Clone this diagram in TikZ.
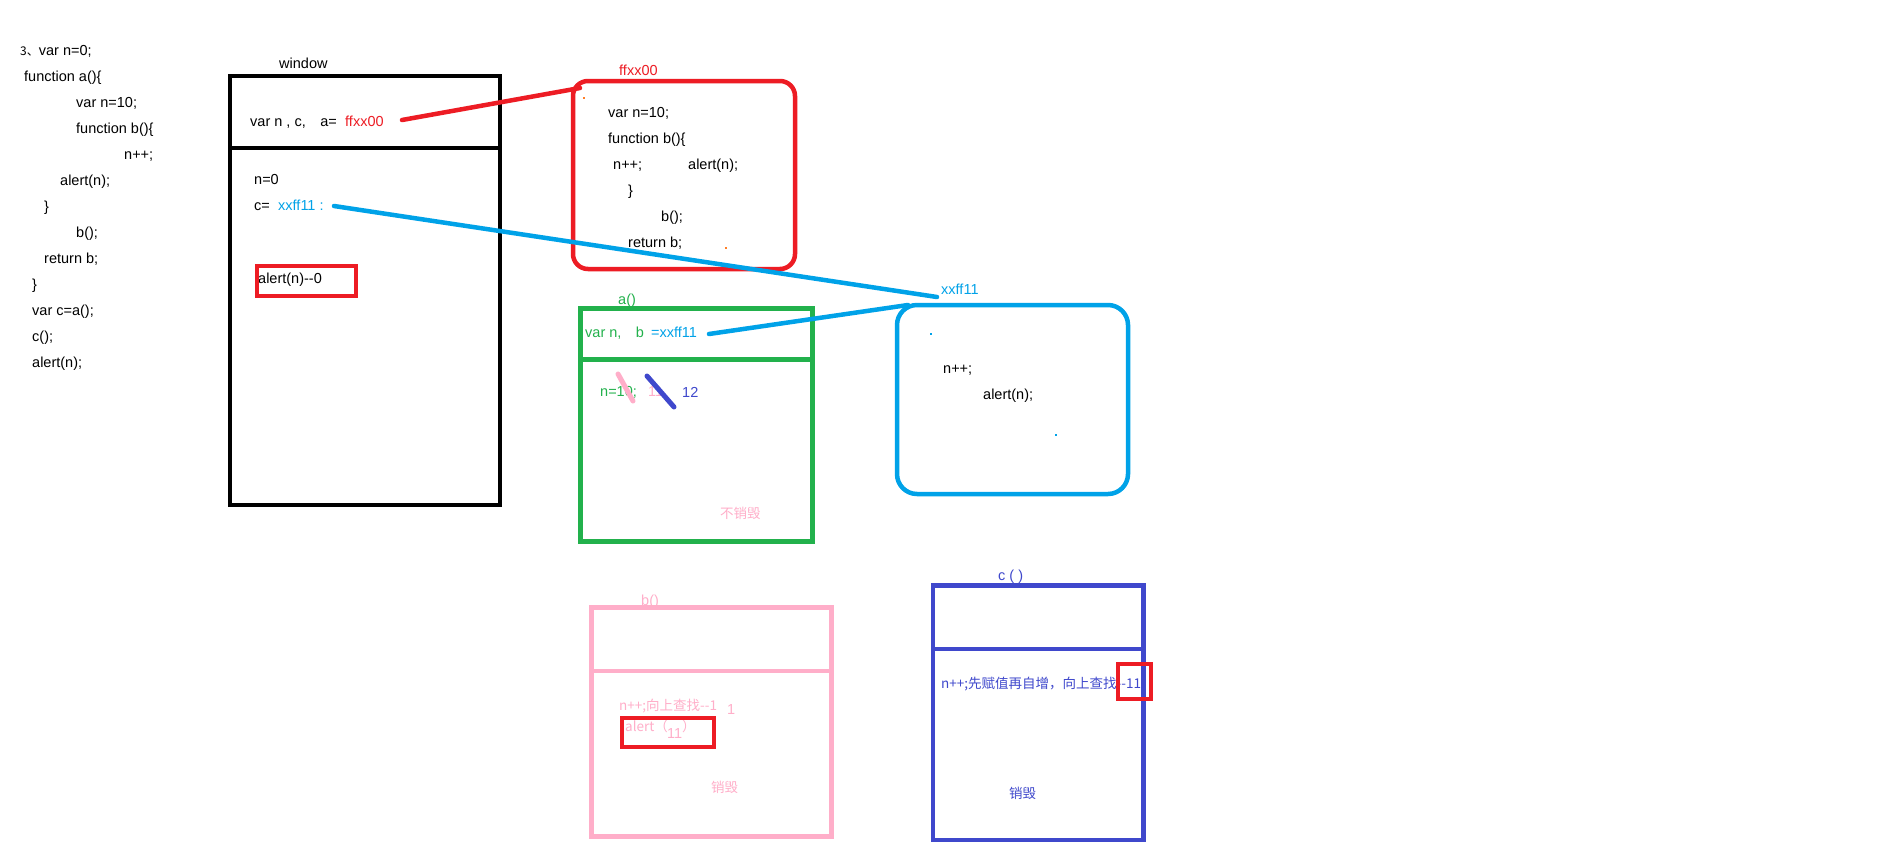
\documentclass[tikz,border=0pt]{standalone}
\usepackage{fontspec}
\setmainfont{Liberation Sans}
\newfontfamily\cjk{Noto Sans CJK SC}
\definecolor{pred}{HTML}{ED1C24}
\definecolor{pgreen}{HTML}{22B14C}
\definecolor{pblue}{HTML}{00A2E8}
\definecolor{pdblue}{HTML}{3F48CC}
\definecolor{ppink}{HTML}{FFAEC9}
\definecolor{porange}{HTML}{FF7F27}
\begin{document}
\begin{tikzpicture}[x=1pt,y=-1pt,
  txt/.style={anchor=base west,inner sep=0pt,font=\fontsize{14.5}{17}\selectfont},
  ctxt/.style={anchor=base west,inner sep=0pt,font=\cjk\fontsize{13.5}{16}\selectfont},
  frame/.style={line width=4.5pt},
  conn/.style={line width=4.5pt,line cap=round},
  strike/.style={line width=5pt,line cap=round},
  dot/.style={fill=#1,inner sep=0pt,minimum size=2pt}]
\fill[white] (0,0) rectangle (1878,855);
\useasboundingbox (0,0) rectangle (1878,855);
% ---------- source code ----------
\node[txt] (c1) at (20,55) {{\cjk\fontsize{12}{14}\selectfont 3、}var n=0;};
\node[txt] (c2) at (24,81) {function a()\{};
\node[txt] (c3) at (76,107) {var n=10;};
\node[txt] (c4) at (76,133) {function b()\{};
\node[txt] (c5) at (124,159) {n++;};
\node[txt] (c6) at (60,185) {alert(n);};
\node[txt] (c7) at (44,211) {\}};
\node[txt] (c8) at (76,237) {b();};
\node[txt] (c9) at (44,263) {return b;};
\node[txt] (c10) at (32,289) {\}};
\node[txt] (c11) at (32,315) {var c=a();};
\node[txt] (c12) at (32,341) {c();};
\node[txt] (c13) at (32,367) {alert(n);};
% ---------- window ----------
\node[txt] (wl) at (279,68) {window};
\draw[frame] (230,76) rectangle (500,505);
\draw[frame] (230,148) -- (500,148);
\node[txt] (wv) at (250,126) {var n , c,\quad a=};
\node[txt,text=pred] (wa) at (345,126) {ffxx00};
\node[txt] (wn) at (254,184) {n=0};
\node[txt] (wc) at (254,210) {c=};
\node[txt,text=pblue] (wcv) at (278,210) {xxff11 :};
\node[txt] (wal) at (258,283) {alert(n)-{}-0};
\draw[frame,pred] (257,266) rectangle (356,296);
% ---------- red function object ----------
\node[txt,text=pred] (rl) at (619,75) {ffxx00};
\draw[frame,pred,rounded corners=15pt] (573,81) rectangle (795,269);
\node[txt] (r1) at (608,117) {var n=10;};
\node[txt] (r2) at (608,143) {function b()\{};
\node[txt] (r3) at (613,169) {n++;};
\node[txt] (r4) at (688,169) {alert(n);};
\node[txt] (r5) at (628,195) {\}};
\node[txt] (r6) at (661,221) {b();};
\node[txt] (r7) at (628,247) {return b;};
\node[dot=porange] (rd1) at (584,98) {};
\node[dot=porange] (rd2) at (726,248) {};
% ---------- green a() ----------
\node[txt,text=pgreen] (gl) at (618,304) {a()};
\draw[frame,pgreen] (580.5,308.5) rectangle (812.5,541.5);
\draw[frame,pgreen] (580.5,359.5) -- (812.5,359.5);
\node[txt,text=pgreen] (gv) at (585,337) {var n,\quad b};
\node[txt,text=pblue] (gb) at (651,337) {=xxff11};
\node[txt,text=pgreen] (gn) at (600,396) {n=10;};
\node[txt,text=ppink] (g11) at (648,396) {11};
\node[txt,text=pdblue] (g12) at (682,397) {12};
\coordinate (ps1) at (618,374); \coordinate (ps2) at (633,401);
\coordinate (bs1) at (647,376); \coordinate (bs2) at (674,407);
\draw[strike,ppink] (ps1) -- (ps2);
\draw[strike,pdblue] (bs1) -- (bs2);
\node[ctxt,text=ppink] (gk) at (720,518) {不销毁};
% ---------- blue function b ----------
\node[txt,text=pblue] (bl) at (941,294) {xxff11};
\draw[frame,pblue,rounded corners=20pt] (897,305) rectangle (1128,494);
\node[txt] (b1) at (943,373) {n++;};
\node[txt] (b2) at (983,399) {alert(n);};
\node[dot=pblue] (bd1) at (931,334) {};
\node[dot=pblue] (bd2) at (1056,435) {};
% ---------- connectors ----------
\coordinate (ra) at (402,120); \coordinate (rb) at (580,88);
\draw[conn,pred] (ra) -- (rb);
\coordinate (ba) at (334,206); \coordinate (bb) at (937,297);
\draw[conn,pblue] (ba) -- (bb);
\coordinate (ga) at (709,334); \coordinate (gbx) at (908,305);
\draw[conn,pblue] (ga) -- (gbx);
% ---------- pink b() ----------
\node[txt,text=ppink] (pl) at (641,605) {b()};
\draw[frame,ppink] (591.5,607.5) rectangle (831.5,836.5);
\draw[frame,ppink] (591.5,671) -- (831.5,671);
\node[ctxt,text=ppink] (p1) at (619,710) {n++;向上查找-{}-1};
\node[txt,text=ppink] (p1b) at (727,714) {1};
\node[ctxt,text=ppink] (p2) at (625,731) {alert（};
\node[txt,text=ppink] (p2b) at (667,738) {11};
\node[ctxt,text=ppink] (p2c) at (682,731) {）};
\draw[frame,pred] (622,718) rectangle (714,747);
\node[ctxt,text=ppink] (pk) at (711,792) {销毁};
% ---------- dark blue c() ----------
\node[txt,text=pdblue] (dl) at (998,580) {c ( )};
\draw[frame,pdblue] (933,585.5) rectangle (1143.5,840);
\draw[frame,pdblue] (933,649) -- (1143.5,649);
\node[ctxt,text=pdblue] (d1) at (941,688) {n++;先赋值再自增，向上查找-{}-11};
\draw[frame,pred] (1118,664) rectangle (1151,699);
\node[ctxt,text=pdblue] (dk) at (1009,798) {销毁};
\end{tikzpicture}
\end{document}
